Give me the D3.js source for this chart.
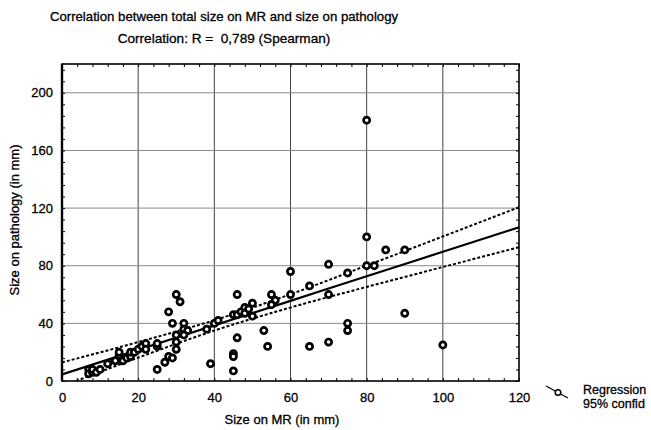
<!DOCTYPE html>
<html>
<head>
<meta charset="utf-8">
<script src="https://cdn.jsdelivr.net/npm/d3@7"></script>
<style>
	body { margin: 0; background: #fff; }
	text { font-family: "Liberation Sans", Arial, sans-serif; fill: #000; stroke: #000; stroke-width: 0.3px; }
</style>
</head>
<body>
<div id="chart"></div>
<script>
// size on MR (x) and size on pathology (y), in mm
var mrSize = [7, 7, 8, 8, 9, 10, 12, 14, 15, 15, 16, 17, 18, 18, 19, 20, 21, 22, 22,
	25, 25, 25, 27, 28, 29, 28, 29, 30, 31, 30, 30, 30, 32, 32, 33, 32,
	38, 39, 40, 41, 45, 46, 46, 46, 45, 45, 45, 47, 48, 48, 49, 50, 50,
	53, 54, 55, 56, 55, 60, 60, 65, 65, 70, 70, 70, 75, 75, 75,
	80, 80, 80, 82, 85, 90, 90, 100];
var pathSize = [8, 5, 6, 8, 6, 8, 12, 14, 18, 20, 14, 16, 17, 20, 20, 22, 24, 26, 22,
	8, 24, 26, 13, 17, 16, 48, 40, 60, 55, 22, 27, 32, 40, 36, 35, 32,
	36, 12, 40, 42, 46, 46, 60, 30, 19, 17, 7, 48, 51, 47, 50, 54, 45,
	35, 24, 60, 56, 53, 60, 76, 66, 24, 81, 60, 27, 75, 40, 35,
	181, 100, 80, 80, 91, 91, 47, 25];

// regression line and 95% confidence band
var fitX = [0, 20, 40, 60, 80, 100, 120];
var fitLine = [4.6, 21.6, 38.6, 55.6, 72.7, 89.7, 106.7];
var fitUpper = [12.9, 27.0, 42.2, 60.2, 80.1, 100.3, 120.6];
var fitLower = [-3.7, 16.2, 35.0, 51.0, 65.3, 79.1, 92.8];

var xTicks = [0, 20, 40, 60, 80, 100, 120];
var yTicks = [0, 40, 80, 120, 160, 200];
var legendLabels = ['Regression', '95% confid'];

var width = 651;
var height = 430;
var margin = {top: 64, right: 132, bottom: 49, left: 62};
var plotW = width - margin.left - margin.right;
var plotH = height - margin.top - margin.bottom;

var svg = d3.select('#chart')
	.append('svg')
	.attr('width', width)
	.attr('height', height);

var x = d3.scaleLinear().domain([0, 120]).range([0, plotW]);
var y = d3.scaleLinear().domain([0, 220]).range([plotH, 0]);

// titles
svg.append('text')
	.attr('x', 224).attr('y', 21)
	.attr('text-anchor', 'middle')
	.style('font-size', '13.2px')
	.text('Correlation between total size on MR and size on pathology');
svg.append('text')
	.attr('x', 224).attr('y', 43)
	.attr('text-anchor', 'middle')
	.style('font-size', '13.6px')
	.style('white-space', 'pre')
	.text('Correlation: R =  0,789 (Spearman)');

var g = svg.append('g')
	.attr('transform', 'translate(' + margin.left + ',' + margin.top + ')');

g.append('clipPath').attr('id', 'clip')
	.append('rect').attr('width', plotW).attr('height', plotH);

// grid
g.selectAll('.vgrid')
	.data(xTicks.slice(1, -1))
	.enter().append('line')
	.attr('x1', function(d){ return x(d); })
	.attr('x2', function(d){ return x(d); })
	.attr('y1', 0).attr('y2', plotH)
	.attr('stroke', '#444').attr('stroke-width', 1);
g.selectAll('.hgrid')
	.data(yTicks.slice(1))
	.enter().append('line')
	.attr('x1', 0).attr('x2', plotW)
	.attr('y1', function(d){ return y(d); })
	.attr('y2', function(d){ return y(d); })
	.attr('stroke', '#888').attr('stroke-width', 1);

// minor ticks, inward on all sides
var xMinor = d3.range(0, 121, 4);
var yMinor = d3.range(0, 221, 8);
g.append('g').call(d3.axisBottom(x).tickValues(xMinor).tickSize(-3).tickFormat(''))
	.attr('transform', 'translate(0,' + plotH + ')')
	.call(function(s){ s.select('.domain').remove(); });
g.append('g').call(d3.axisTop(x).tickValues(xMinor).tickSize(-3).tickFormat(''))
	.call(function(s){ s.select('.domain').remove(); });
g.append('g').call(d3.axisLeft(y).tickValues(yMinor).tickSize(-3).tickFormat(''))
	.call(function(s){ s.select('.domain').remove(); });
g.append('g').call(d3.axisRight(y).tickValues(yMinor).tickSize(-3).tickFormat(''))
	.attr('transform', 'translate(' + plotW + ',0)')
	.call(function(s){ s.select('.domain').remove(); });

// tick labels
var xAxis = g.append('g')
	.attr('transform', 'translate(0,' + plotH + ')')
	.call(d3.axisBottom(x).tickValues(xTicks).tickSize(0).tickPadding(12));
xAxis.select('.domain').remove();
xAxis.selectAll('text').style('font-size', '13px').style('font-family', '"Liberation Sans", Arial, sans-serif');

var yAxis = g.append('g')
	.call(d3.axisLeft(y).tickValues(yTicks).tickSize(0).tickPadding(9));
yAxis.select('.domain').remove();
yAxis.selectAll('text').style('font-size', '13px').style('font-family', '"Liberation Sans", Arial, sans-serif');

// regression and confidence band
var fitData = fitX.map(function(d, i){
	return {x: d, fit: fitLine[i], up: fitUpper[i], lo: fitLower[i]};
});
var plot = g.append('g').attr('clip-path', 'url(#clip)');
function bandLine(key){
	return d3.line()
		.x(function(d){ return x(d.x); })
		.y(function(d){ return y(d[key]); })
		.curve(d3.curveMonotoneX);
}
plot.append('path').datum(fitData)
	.attr('d', bandLine('fit'))
	.attr('fill', 'none').attr('stroke', '#000').attr('stroke-width', 2.2);
['up', 'lo'].forEach(function(k){
	plot.append('path').datum(fitData)
		.attr('d', bandLine(k))
		.attr('fill', 'none').attr('stroke', '#000')
		.attr('stroke-width', 2).attr('stroke-dasharray', '3,2');
});

// points
var points = mrSize.map(function(d, i){ return {x: d, y: pathSize[i]}; });
g.selectAll('.pt')
	.data(points)
	.enter().append('circle')
	.attr('cx', function(d){ return x(d.x); })
	.attr('cy', function(d){ return y(d.y); })
	.attr('r', 3.1)
	.attr('fill', '#fff')
	.attr('stroke', '#000')
	.attr('stroke-width', 2.7);

// frame
g.append('rect')
	.attr('width', plotW).attr('height', plotH)
	.attr('fill', 'none').attr('stroke', '#000').attr('stroke-width', 1.6);
g.append('line')
	.attr('x1', 0).attr('x2', 0).attr('y1', 0).attr('y2', plotH)
	.attr('stroke', '#000').attr('stroke-width', 2.4);

// axis titles
svg.append('text')
	.attr('x', 282).attr('y', 424)
	.attr('text-anchor', 'middle')
	.style('font-size', '13px')
	.text('Size on MR (in mm)');
svg.append('text')
	.attr('transform', 'translate(19,220) rotate(-90)')
	.attr('text-anchor', 'middle')
	.style('font-size', '13px')
	.text('Size on pathology (in mm)');

// legend
var lg = svg.append('g').attr('transform', 'translate(546,386)');
lg.append('line')
	.attr('x1', 0).attr('y1', 0).attr('x2', 22).attr('y2', 12)
	.attr('stroke', '#000').attr('stroke-width', 1.2);
lg.append('circle')
	.attr('cx', 12).attr('cy', 6.5).attr('r', 2.8)
	.attr('fill', '#fff').attr('stroke', '#000').attr('stroke-width', 1.5);
lg.selectAll('.lt')
	.data(legendLabels)
	.enter().append('text')
	.attr('x', 37)
	.attr('y', function(d, i){ return 8 + i * 14; })
	.style('font-size', '12.5px')
	.text(function(d){ return d; });
</script>
</body>
</html>
